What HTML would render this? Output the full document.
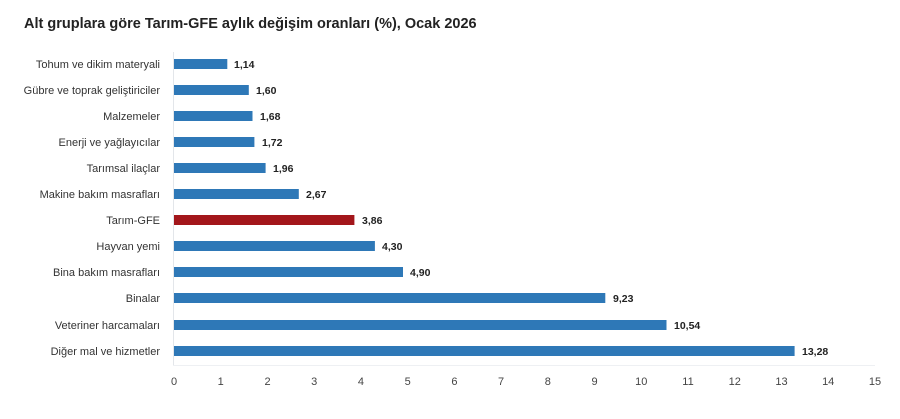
<!DOCTYPE html>
<html><head><meta charset="utf-8"><style>
html,body{margin:0;padding:0;background:#fff;}
svg{display:block;font-family:"Liberation Sans",sans-serif;}
</style></head><body>
<svg width="900" height="419" xmlns="http://www.w3.org/2000/svg">
<text x="24" y="28" font-size="14.5" font-weight="bold" fill="#222">Alt gruplara göre Tarım-GFE aylık değişim oranları (%), Ocak 2026</text>
<line x1="173.5" y1="52" x2="173.5" y2="365" stroke="#e3e6ea" stroke-width="1"/>
<line x1="173" y1="365.5" x2="875" y2="365.5" stroke="#eef0f3" stroke-width="1"/>
<g font-size="11" fill="#333" text-anchor="end">
<text x="160" y="68">Tohum ve dikim materyali</text>
<text x="160" y="94">Gübre ve toprak geliştiriciler</text>
<text x="160" y="120">Malzemeler</text>
<text x="160" y="146">Enerji  ve yağlayıcılar</text>
<text x="160" y="172">Tarımsal ilaçlar</text>
<text x="160" y="198">Makine bakım masrafları</text>
<text x="160" y="224">Tarım-GFE</text>
<text x="160" y="250">Hayvan yemi</text>
<text x="160" y="276">Bina bakım masrafları</text>
<text x="160" y="302">Binalar</text>
<text x="160" y="329">Veteriner harcamaları</text>
<text x="160" y="355">Diğer mal ve hizmetler</text>
</g>
<g fill="#2e78b7">
<rect x="174" y="59" width="53.3" height="10"/>
<rect x="174" y="85" width="74.8" height="10"/>
<rect x="174" y="111" width="78.5" height="10"/>
<rect x="174" y="137" width="80.4" height="10"/>
<rect x="174" y="163" width="91.6" height="10"/>
<rect x="174" y="189" width="124.8" height="10"/>
<rect x="174" y="215" width="180.4" height="10" fill="#a3161b"/>
<rect x="174" y="241" width="200.9" height="10"/>
<rect x="174" y="267" width="229" height="10"/>
<rect x="174" y="293" width="431.3" height="10"/>
<rect x="174" y="320" width="492.5" height="10"/>
<rect x="174" y="346" width="620.6" height="10"/>
</g>
<g font-size="10.5" font-weight="bold" fill="#222">
<text x="234" y="68">1,14</text>
<text x="256" y="94">1,60</text>
<text x="260" y="120">1,68</text>
<text x="262" y="146">1,72</text>
<text x="273" y="172">1,96</text>
<text x="306" y="198">2,67</text>
<text x="362" y="224">3,86</text>
<text x="382" y="250">4,30</text>
<text x="410" y="276">4,90</text>
<text x="613" y="302">9,23</text>
<text x="674" y="329">10,54</text>
<text x="802" y="355">13,28</text>
</g>
<g font-size="11" fill="#444" text-anchor="middle">
<text x="174" y="385">0</text><text x="220.7" y="385">1</text><text x="267.5" y="385">2</text>
<text x="314.2" y="385">3</text><text x="360.9" y="385">4</text><text x="407.7" y="385">5</text>
<text x="454.4" y="385">6</text><text x="501.1" y="385">7</text><text x="547.8" y="385">8</text>
<text x="594.6" y="385">9</text><text x="641.3" y="385">10</text><text x="688" y="385">11</text>
<text x="734.8" y="385">12</text><text x="781.5" y="385">13</text><text x="828.2" y="385">14</text>
<text x="875" y="385">15</text>
</g>
</svg>
</body></html>
